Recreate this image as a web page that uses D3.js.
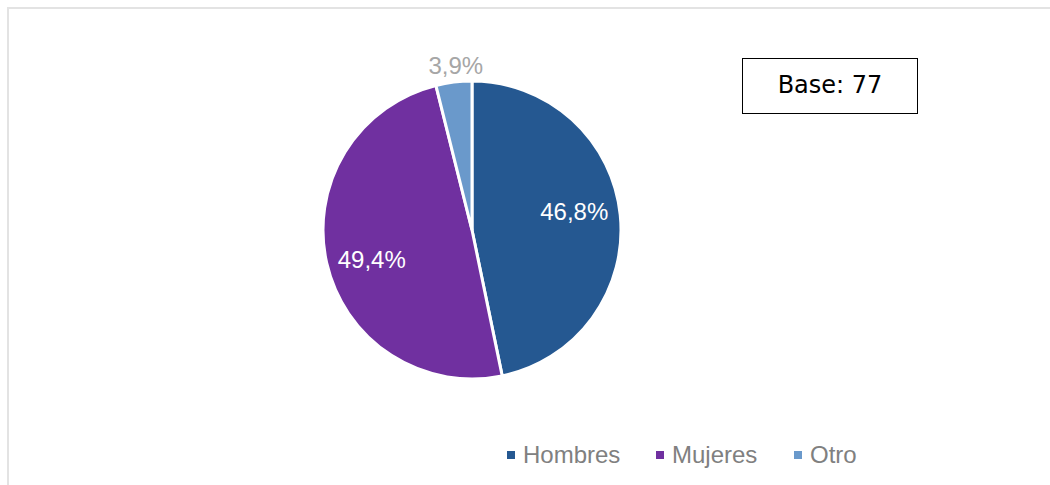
<!DOCTYPE html>
<html>
<head>
<meta charset="utf-8">
<script src="https://cdn.jsdelivr.net/npm/d3@7"></script>
<style>
body{margin:0;background:#fff;}
</style>
</head>
<body>
<svg id="chart" width="1050" height="485"></svg>
<script>
var categories = ["Hombres", "Mujeres", "Otro"];
var values = [36, 38, 3];
var labels = ["46,8%", "49,4%", "3,9%"];
var colors = ["#255891", "#7030a0", "#6a99cb"];
var baseText = "Base: 77";

var svg = d3.select("#chart");

// light frame of the chart area
svg.append("path")
	.attr("d", "M8,485 L8,8 L1050,8")
	.attr("fill", "none")
	.attr("stroke", "#e3e3e3")
	.attr("stroke-width", 2)

var cx = 472, cy = 230, r = 149;

var pie = d3.pie().sort(null).value(d=>d)
var arcs = pie(values)
var arc = d3.arc().innerRadius(0).outerRadius(r)

var g = svg.append("g").attr("transform", "translate(" + cx + "," + cy + ")")

g.selectAll("path.slice")
	.data(arcs)
	.enter().append("path")
	.attr("class", "slice")
	.attr("d", arc)
	.attr("fill", (d,i)=>colors[i])
	.attr("stroke", "#fff")
	.attr("stroke-width", 3)

// label positions: inside for the big slices, outside for the small one
var inner = d3.arc().innerRadius(r*0.69).outerRadius(r*0.69)
var outer = d3.arc().innerRadius(r*1.11).outerRadius(r*1.11)
var nudgeX = [0, 0, 4];
var nudgeY = [-8, 7, 0]; // excel puts the labels a bit off the centroid

g.selectAll("text.lbl")
	.data(arcs)
	.enter().append("text")
	.attr("class", "lbl")
	.attr("transform", function(d,i){
		var p = (i==2 ? outer : inner).centroid(d)
		return "translate(" + (p[0] + nudgeX[i]) + "," + (p[1] + nudgeY[i]) + ")"
	})
	.attr("text-anchor", "middle")
	.attr("dy", "0.35em")
	.attr("font-family", "Liberation Sans, Arial, sans-serif")
	.attr("font-size", 24)
	.attr("fill", (d,i)=> i==2 ? "#a6a6a6" : "#fff")
	.text((d,i)=>labels[i])

// base box
svg.append("rect")
	.attr("x", 742.5).attr("y", 58.5)
	.attr("width", 175).attr("height", 55)
	.attr("fill", "#fff")
	.attr("stroke", "#000")
	.attr("stroke-width", 1)
svg.append("text")
	.attr("x", 830).attr("y", 93)
	.attr("text-anchor", "middle")
	.attr("font-family", "DejaVu Sans, Verdana, sans-serif")
	.attr("font-size", 24)
	.attr("fill", "#000")
	.text(baseText)

// legend
var legendX = [507, 656, 794];
var leg = svg.selectAll("g.leg")
	.data(categories)
	.enter().append("g")
	.attr("class", "leg")
	.attr("transform", (d,i)=>"translate(" + legendX[i] + ",455)")
leg.append("rect")
	.attr("x", 0).attr("y", -4)
	.attr("width", 8).attr("height", 8)
	.attr("fill", (d,i)=>colors[i])
leg.append("text")
	.attr("x", 16).attr("y", 8)
	.attr("font-family", "Liberation Sans, Arial, sans-serif")
	.attr("font-size", 24)
	.attr("fill", "#808080")
	.text(d=>d)
</script>
</body>
</html>
